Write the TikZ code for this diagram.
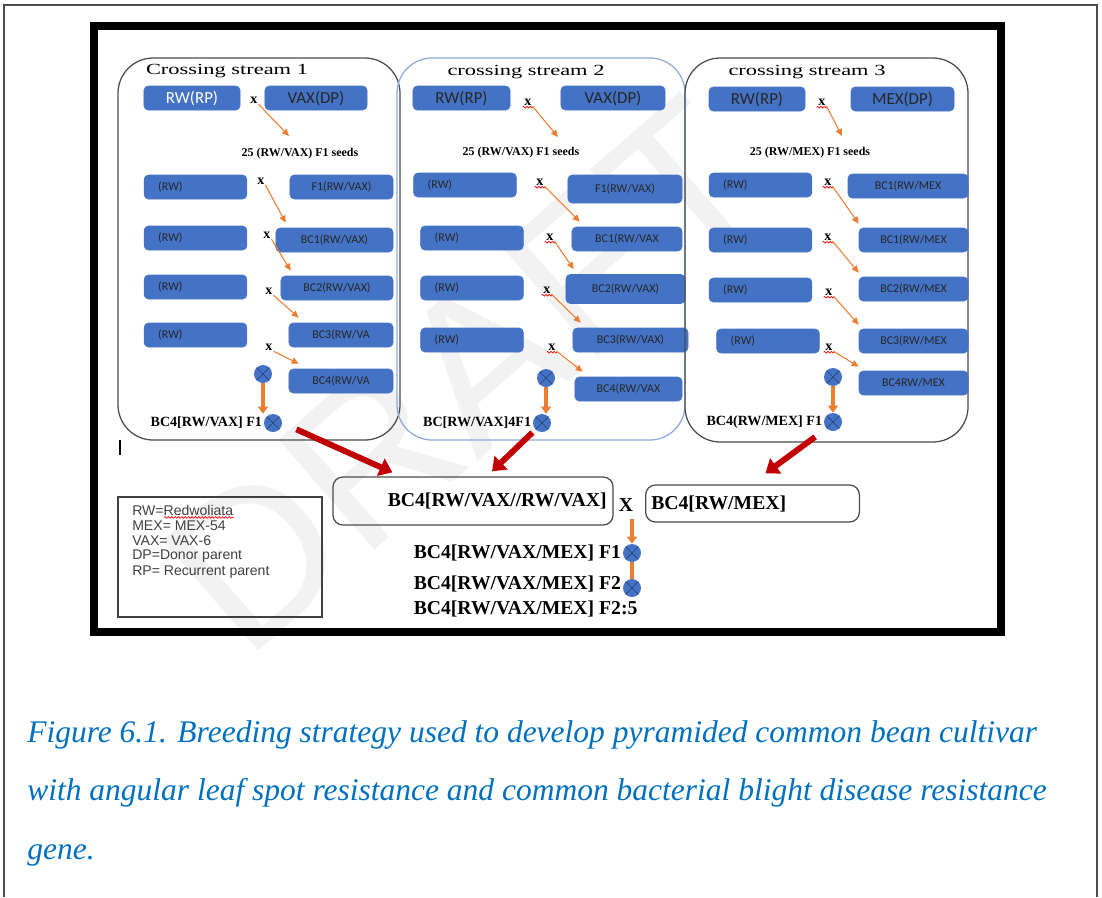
\documentclass[tikz,border=0pt]{standalone}
\usepackage{fontspec}
\usepackage{graphicx}
\setmainfont{Liberation Serif}
\newfontfamily\boxfont{Carlito}
\newfontfamily\keyfont{Liberation Sans}
\usetikzlibrary{arrows.meta,calc,decorations.pathmorphing}

\definecolor{boxblue}{HTML}{4472C4}
\definecolor{crossorange}{HTML}{ED7D31}
\definecolor{pyrred}{HTML}{C00000}
\definecolor{streamblue}{HTML}{8FAADC}
\definecolor{capblue}{HTML}{0070C0}

\tikzset{
  bw/.style={minimum width=#1*0.7113pt},
  bh/.style={minimum height=#1*0.7113pt},
  stream/.style={draw=black!70, line width=0.9pt, rounded corners=25pt},
  bluebox/.style={draw=boxblue, fill=boxblue, rounded corners=3pt, bh=24,
    inner sep=1pt, text=black!85},
  topbox/.style={bluebox, font=\boxfont\fontsize{12}{12}\selectfont},
  bcbox/.style={bluebox, font=\boxfont\fontsize{8.5}{8.5}\selectfont},
  rwbox/.style={bcbox, minimum width=73pt, text width=53pt, inner xsep=10pt, align=left},
  stitle/.style={font=\fontsize{11}{11}\selectfont},
  seeds/.style={font=\bfseries\fontsize{8.5}{8.5}\selectfont},
  xmark/.style={font=\bfseries\fontsize{10}{10}\selectfont, inner sep=0.5pt},
  genlabel/.style={font=\bfseries\fontsize{10}{10}\selectfont, anchor=east, inner xsep=1pt},
  biglabel/.style={font=\bfseries\fontsize{14}{14}\selectfont, inner xsep=1pt},
  fusebox/.style={draw=black!70, line width=0.9pt, rounded corners=7pt,
    font=\bfseries\fontsize{14}{14}\selectfont, inner xsep=4pt},
  keytext/.style={font=\keyfont\fontsize{10}{10}\selectfont, text=black!75, anchor=west, inner sep=0pt},
  selfing/.style={circle, fill=boxblue, minimum size=12.8pt, inner sep=0pt,
    path picture={\draw[boxblue!55!black, line width=0.4pt]
      (path picture bounding box.north west) -- (path picture bounding box.south east)
      (path picture bounding box.north east) -- (path picture bounding box.south west);}},
  cross/.style={crossorange, line width=0.75pt, -{Triangle[length=5pt, width=4.5pt]}},
  descent/.style={crossorange, line width=2.2pt, -{Triangle[length=5pt, width=7pt]}},
  pyramid/.style={pyrred, line width=4.2pt, -{Triangle[length=9pt, width=13pt]}},
  squiggle/.style={red, line width=0.45pt, decorate,
    decoration={snake, amplitude=0.6pt, segment length=2.4pt}},
  watermark/.style={font=\keyfont\fontsize{151}{151}\selectfont, text=black!5, rotate=41},
  caption/.style={font=\itshape\fontsize{22.4}{22.4}\selectfont, text=capblue, anchor=base west, inner sep=0pt}
}

\begin{document}
\begin{tikzpicture}[x=0.025cm, y=-0.025cm]
\useasboundingbox (0,0) rectangle (1102,897);
\node[watermark] (draft) at (465,375) {DRAFT};

% page and frame
\draw[black!70, line width=1.4pt] (4,897) -- (4,5) -- (1097,5) -- (1097,897);
\draw[line width=5.7pt] (94,26) rectangle (1001,632);

% crossing stream 1
\draw[stream] (118,58) rectangle (400,440);
\node[stitle] (s1-title) at (227,71) {\scalebox{1.45}[1]{Crossing stream 1}};
\node[topbox, bw=96, text=white] (s1-rp) at (192,98) {RW(RP)};
\node[topbox, bw=102] (s1-dp) at (316,98) {VAX(DP)};
\node[xmark] (s1-x1) at (254,100) {x};
\node[seeds] (s1-seeds) at (300,154) {25 (RW/VAX) F1 seeds};
\foreach \i/\y in {2/187,3/238,4/287,5/335}
  \node[rwbox] (s1-rw\i) at (195.5,\y) {(RW)};
\node[bcbox, bw=103] (s1-bc2) at (341.5,187) {F1(RW/VAX)};
\node[bcbox, bw=117] (s1-bc3) at (334.5,240) {BC1(RW/VAX)};
\node[bcbox, bw=112] (s1-bc4) at (337,288) {BC2(RW/VAX)};
\node[bcbox, bw=104] (s1-bc5) at (341,335) {BC3(RW/VA};
\node[bcbox, bw=104] (s1-bc6) at (341,381) {BC4(RW/VA};
\foreach \i/\x/\y in {2/261/181,3/267/235,4/269/291,5/269/347}
  \node[xmark] (s1-x\i) at (\x,\y) {x};
\draw[cross] (s1-x1.south east) -- ($(s1-x1)+(35,36)$);
\foreach \i [evaluate=\i as \j using int(\i+1)] in {2,...,5}
  \draw[cross] (s1-x\i.south east) -- ($(s1-bc\j.north west)+(10,-5)$);
\node[selfing] (s1-c1) at (263,374) {};
\node[selfing] (s1-c2) at (273,423) {};
\draw[descent] (s1-c1.south) -- (s1-c1.south |- s1-c2.north);
\node[genlabel] (s1-f1) at (s1-c2.west) {BC4[RW/VAX] F1};

% crossing stream 2
\draw[stream, draw=streamblue] (397,58) rectangle (685,440);
\node[stitle] (s2-title) at (526,72) {\scalebox{1.45}[1]{crossing stream 2}};
\node[topbox, bw=97] (s2-rp) at (461.5,98) {RW(RP)};
\node[topbox, bw=104] (s2-dp) at (613,98) {VAX(DP)};
\node[xmark] (s2-x1) at (528,102) {x};
\node[seeds] (s2-seeds) at (521,153) {25 (RW/VAX) F1 seeds};
\foreach \i/\x/\y in {2/465/185,3/472/238,4/472/288,5/472/340}
  \node[rwbox] (s2-rw\i) at (\x,\y) {(RW)};
\node[bcbox, bw=114, bh=28] (s2-bc2) at (625,189) {F1(RW/VAX)};
\node[bcbox, bw=110] (s2-bc3) at (627,239) {BC1(RW/VAX};
\node[bcbox, bw=119, bh=29] (s2-bc4) at (625.5,289) {BC2(RW/VAX)};
\node[bcbox, bw=115] (s2-bc5) at (630.5,340) {BC3(RW/VAX)};
\node[bcbox, bw=107] (s2-bc6) at (628.5,389) {BC4(RW/VAX};
\foreach \i/\x/\y in {2/540/182,3/550/237,4/547/290,5/552/347}
  \node[xmark] (s2-x\i) at (\x,\y) {x};
\foreach \i in {1,...,5}
  \draw[squiggle] ($(s2-x\i.south west)+(-1,1)$) -- ($(s2-x\i.south east)+(1,1)$);
\draw[cross] (s2-x1.south east) -- ($(s2-x1)+(30,35)$);
\foreach \i [evaluate=\i as \j using int(\i+1)] in {2,...,5}
  \draw[cross] (s2-x\i.south east) -- ($(s2-bc\j.north west)+(8,-5)$);
\node[selfing] (s2-c1) at (546,378) {};
\node[selfing] (s2-c2) at (542,423) {};
\draw[descent] (s2-c1.south) -- (s2-c1.south |- s2-c2.north);
\node[genlabel] (s2-f1) at (s2-c2.west) {BC[RW/VAX]4F1};

% crossing stream 3
\draw[stream] (685,58) rectangle (968,442);
\node[stitle] (s3-title) at (807,72) {\scalebox{1.45}[1]{crossing stream 3}};
\node[topbox, bw=96] (s3-rp) at (757,99) {RW(RP)};
\node[topbox, bw=103] (s3-dp) at (902.5,99) {MEX(DP)};
\node[xmark] (s3-x1) at (822,102) {x};
\node[seeds] (s3-seeds) at (810,153) {25 (RW/MEX) F1 seeds};
\foreach \i/\x/\y in {2/760.5/185,3/760.5/240,4/760.5/290,5/768/341}
  \node[rwbox] (s3-rw\i) at (\x,\y) {(RW)};
\node[bcbox, bw=120] (s3-bc2) at (908,186) {BC1(RW/MEX};
\node[bcbox, bw=109] (s3-bc3) at (913.5,240) {BC1(RW/MEX};
\node[bcbox, bw=109] (s3-bc4) at (913.5,289) {BC2(RW/MEX};
\node[bcbox, bw=109] (s3-bc5) at (913.5,341) {BC3(RW/MEX};
\node[bcbox, bw=109] (s3-bc6) at (913.5,383) {BC4RW/MEX};
\foreach \i/\x/\y in {2/828/182,3/828/237,4/829/292,5/829/347}
  \node[xmark] (s3-x\i) at (\x,\y) {x};
\foreach \i in {1,...,5}
  \draw[squiggle] ($(s3-x\i.south west)+(-1,1)$) -- ($(s3-x\i.south east)+(1,1)$);
\draw[cross] (s3-x1.south east) -- ($(s3-x1)+(20,34)$);
\foreach \i [evaluate=\i as \j using int(\i+1)] in {2,...,5}
  \draw[cross] (s3-x\i.south east) -- ($(s3-bc\j.north west)+(0,-4)$);
\node[selfing] (s3-c1) at (833,377) {};
\node[selfing] (s3-c2) at (833,422) {};
\draw[descent] (s3-c1.south) -- (s3-c1.south |- s3-c2.north);
\node[genlabel] (s3-f1) at (s3-c2.west) {BC4(RW/MEX] F1};

% pyramiding cross
\node[fusebox, bw=280, bh=48, text width=190pt, align=right] (bot-a) at (473,501) {BC4[RW/VAX//RW/VAX]};
\node[biglabel] (bot-x) at (626,505) {X};
\node[fusebox, bw=213, bh=37, text width=144pt, align=left] (bot-b) at (752.5,503.5) {BC4[RW/MEX]};
\node[selfing] (bot-c1) at (632,553) {};
\node[selfing] (bot-c2) at (632,588) {};
\draw[descent, shorten <=2pt] (bot-c1.north |- bot-x.south) -- (bot-c1.north);
\draw[crossorange, line width=2.2pt] (bot-c1.south) -- (bot-c2.north);
\node[biglabel, anchor=east] (bot-l1) at (bot-c1.west) {BC4[RW/VAX/MEX] F1};
\node[biglabel, anchor=east] (bot-l2) at ($(bot-c2.west)+(0,-4)$) {BC4[RW/VAX/MEX] F2};
\node[biglabel, anchor=west] (bot-l3) at (bot-l2.west |- 0,609) {BC4[RW/VAX/MEX] F2:5};

\draw[pyramid, shorten <=11pt] (s1-c2.east) -- ($(bot-a.north west)+(60,-4)$);
\draw[pyramid, shorten <=3pt] (s2-c2.south west) -- ($(bot-a.north)+(19,-5)$);
\draw[pyramid, shorten <=10pt] (s3-c2.south west) -- ($(bot-b.north)+(13,-11)$);

% key
\draw[black!75, line width=0.9pt] (118,497) rectangle (322,617);
\foreach \i/\t in {1/RW=Redwoliata, 2/MEX= MEX-54, 3/VAX= VAX-6, 4/DP=Donor parent, 5/RP= Recurrent parent}
  \node[keytext] (key\i) at (132,{494.5+15.5*\i}) {\t};
\draw[squiggle] ($(key1.south west)+(32,2)$) -- ($(key1.south east)+(0,2)$);
\draw[line width=1pt] (120,440) -- (120,455);

% caption
\node[caption] (cap1) at (27,742) {Figure 6.1. Breeding strategy used to develop pyramided common bean cultivar};
\node[caption] (cap2) at (27,800) {with angular leaf spot resistance and common bacterial blight disease resistance};
\node[caption] (cap3) at (27,859) {gene.};
\end{tikzpicture}
\end{document}
